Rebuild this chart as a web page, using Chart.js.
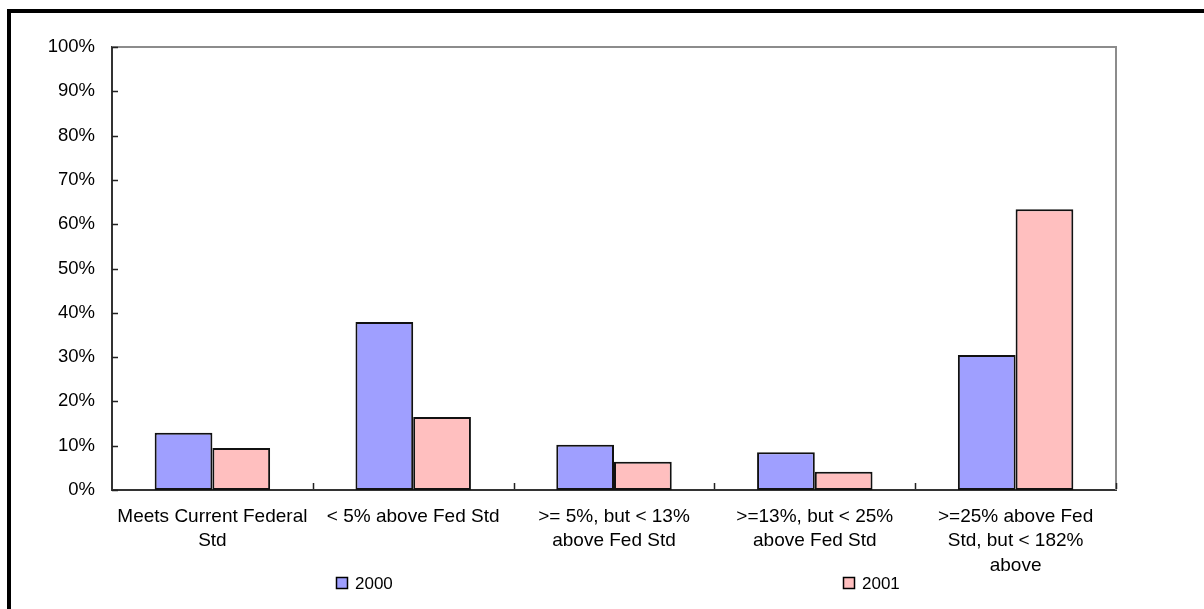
<!DOCTYPE html>
<html>
<head>
<meta charset="utf-8">
<script src="https://cdn.jsdelivr.net/npm/chart.js@4.4.1/dist/chart.umd.min.js"></script>
<style>
  html, body { margin: 0; padding: 0; background: #fff; }
  canvas { display: block; }
</style>
</head>
<body>
<canvas id="c" width="1204" height="609"></canvas>
<script>
// Categories (multi-line labels) and the share of each year in every band
const categories = [
  ["Meets Current Federal", "Std"],
  ["< 5% above Fed Std"],
  [">= 5%, but < 13%", "above Fed Std"],
  [">=13%, but < 25%", "above Fed Std"],
  [">=25% above Fed", "Std, but < 182%", "above"]
];
const seriesNames = ["2000", "2001"];
const values2000 = [12.9, 37.9, 10.2, 8.5, 30.5];
const values2001 = [9.5, 16.5, 6.4, 4.1, 63.4];
const yTicks = [0, 10, 20, 30, 40, 50, 60, 70, 80, 90, 100];

const FONT = '"Liberation Sans", Arial, sans-serif';

// Page frame, plot frame (top/right) and inward tick marks
const framePlugin = {
  id: 'frame',
  beforeDraw(chart) {
    const ctx = chart.ctx;
    ctx.save();
    ctx.fillStyle = '#fff';
    ctx.fillRect(0, 0, chart.width, chart.height);
    ctx.fillStyle = '#000';
    ctx.fillRect(7, 9, chart.width - 7, 4);
    ctx.fillRect(7, 9, 4, chart.height - 9);
    ctx.restore();
  },
  afterDatasetsDraw(chart) {
    const ctx = chart.ctx;
    const a = chart.chartArea;
    const y = chart.scales.y;
    const x = chart.scales.x;
    ctx.save();
    // gray top and right plot edges
    ctx.strokeStyle = '#8c8c8c';
    ctx.lineWidth = 2;
    ctx.beginPath();
    ctx.moveTo(a.left, a.top);
    ctx.lineTo(a.right, a.top);
    ctx.lineTo(a.right, a.bottom);
    ctx.stroke();
    // tick marks pointing into the plot
    ctx.strokeStyle = '#222';
    ctx.lineWidth = 1.5;
    ctx.beginPath();
    yTicks.forEach(v => {
      const py = Math.round(y.getPixelForValue(v)) + 0.5;
      ctx.moveTo(a.left, py);
      ctx.lineTo(a.left + 6, py);
    });
    const n = categories.length;
    for (let i = 1; i <= n; i++) {
      const px = Math.round(x.getPixelForValue(i - 0.5)) + 0.5;
      ctx.moveTo(px, a.bottom - 1);
      ctx.lineTo(px, a.bottom - 7);
    }
    ctx.stroke();
    ctx.restore();
  },
  afterDraw(chart) {
    // legend, spread across the bottom of the frame
    const ctx = chart.ctx;
    const pos = chart.options.plugins.frame.legendX;
    const ly = chart.options.plugins.frame.legendY;
    ctx.save();
    ctx.font = '17px ' + FONT;
    ctx.textBaseline = 'middle';
    ctx.textAlign = 'left';
    chart.data.datasets.forEach((ds, i) => {
      const bx = pos[i];
      ctx.fillStyle = ds.backgroundColor;
      ctx.fillRect(bx, ly - 6, 12, 12);
      ctx.strokeStyle = '#000';
      ctx.lineWidth = 1.5;
      ctx.strokeRect(bx + 0.5, ly - 5.5, 11, 11);
      ctx.fillStyle = '#000';
      ctx.fillText(ds.label, bx + 19, ly + 1);
    });
    ctx.restore();
  }
};

new Chart(document.getElementById('c'), {
  type: 'bar',
  data: {
    labels: categories,
    datasets: [
      {
        label: seriesNames[0],
        data: values2000,
        backgroundColor: '#9f9fff',
        borderColor: '#111',
        borderWidth: 2,
        borderSkipped: false
      },
      {
        label: seriesNames[1],
        data: values2001,
        backgroundColor: '#ffbfbf',
        borderColor: '#111',
        borderWidth: 2,
        borderSkipped: false
      }
    ]
  },
  options: {
    responsive: false,
    animation: false,
    events: [],
    layout: { padding: { left: 0, top: 47, right: 88, bottom: 0 } },
    datasets: {
      bar: { categoryPercentage: 0.575, barPercentage: 1.0 }
    },
    plugins: {
      legend: { display: false },
      tooltip: { enabled: false },
      frame: { legendX: [336, 843], legendY: 583 }
    },
    scales: {
      x: {
        grid: { display: false, drawTicks: false },
        border: { display: true, color: '#333', width: 2 },
        ticks: {
          color: '#000',
          font: { family: FONT, size: 19, lineHeight: 1.3 },
          padding: 14,
          maxRotation: 0,
          minRotation: 0,
          autoSkip: false
        },
        afterFit(s) { s.height = 119; }
      },
      y: {
        min: 0,
        max: 100,
        grid: { display: false, drawTicks: false },
        border: { display: true, color: '#333', width: 2 },
        ticks: {
          stepSize: 10,
          color: '#000',
          font: { family: FONT, size: 18.5 },
          padding: 17,
          callback: v => v + '%'
        },
        afterFit(s) { s.width = 112; }
      }
    }
  },
  plugins: [framePlugin]
});
</script>
</body>
</html>
